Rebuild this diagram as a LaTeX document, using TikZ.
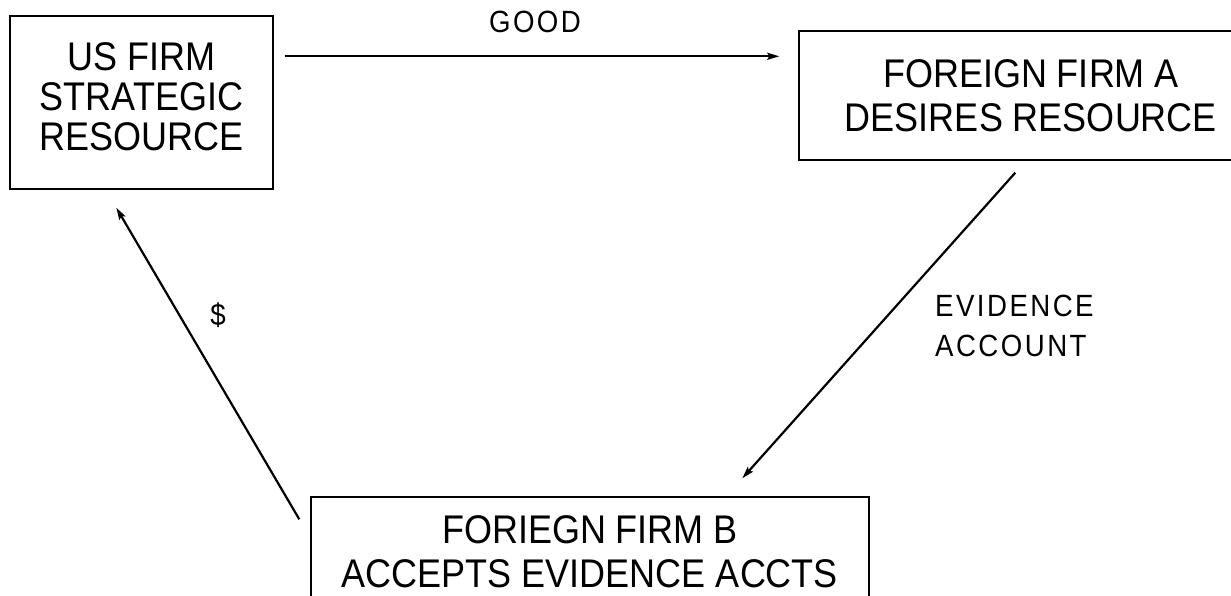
\documentclass[tikz,border=0pt]{standalone}
\usepackage{fontspec}
\setmainfont{Liberation Sans}[FakeStretch=0.9]
\newfontfamily\lblfont{Liberation Sans}[FakeStretch=0.9,LetterSpace=8]
\usetikzlibrary{arrows.meta,calc}
\begin{document}
\begin{tikzpicture}[x=1pt,y=-1pt,
  box/.style={draw=black, line width=1.4pt, inner sep=0pt, align=center},
  conn/.style={line width=2.2pt, -{Stealth[length=12pt,width=7pt,inset=2pt]}},
  lbl/.style={inner sep=0pt, font=\lblfont\fontsize{30.7}{40}\selectfont}]
\clip (0,0) rectangle (1231,595);
\fill[white] (0,0) rectangle (1231,595);
% boxes
\node[box, minimum width=263pt, minimum height=173pt,
      font=\fontsize{40}{40}\selectfont] (b1) at (141.5,102.5)
  {\begin{tabular}{@{}c@{}}US FIRM\\STRATEGIC\\RESOURCE\end{tabular}};
\node[box, minimum width=464pt, minimum height=129pt,
      font=\fontsize{40}{43.5}\selectfont] (b2) at (1031,95.5)
  {FOREIGN FIRM A\\DESIRES RESOURCE};
\node[box, minimum width=558pt, minimum height=109pt,
      font=\fontsize{40}{44}\selectfont] (b3) at (590,551.5)
  {FORIEGN FIRM B\\ACCEPTS EVIDENCE ACCTS};
% labels
\node[lbl] (good) at (535,22) {GOOD};
\node[lbl, anchor=west, align=left] (ev) at (935,326) {EVIDENCE\\ACCOUNT};
\node[lbl] (dol) at (218,315) {\$};
% connectors
\draw[conn] ($(b1.north east)+(11,41)$) -- ($(b2.north west)+(-19,26)$);
\draw[conn] ($(b2.south west)+(217,12)$) -- ($(b3.north west)+(432,-18)$);
\draw[conn] ($(b3.north west)+(-11,23)$) -- ($(b1.south west)+(107,18)$);
\end{tikzpicture}
\end{document}
